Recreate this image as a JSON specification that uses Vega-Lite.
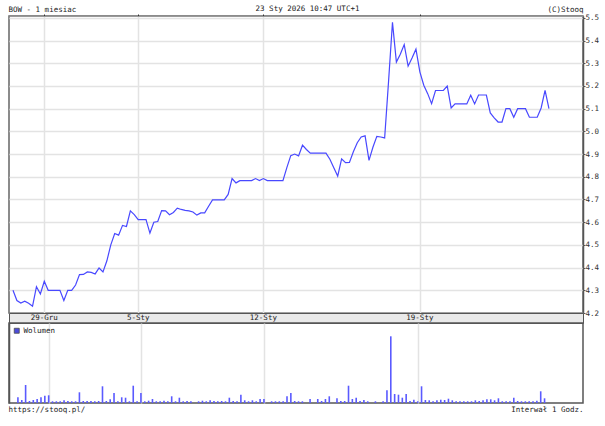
{
  "$schema": "https://vega.github.io/schema/vega-lite/v6.json",
  "background": "white",
  "padding": {"left": 7, "top": 4, "right": 0, "bottom": 0},
  "spacing": 0,
  "bounds": "flush",
  "resolve": {"legend": {"color": "independent"}},
  "title": {"text": "23 Sty 2026 10:47 UTC+1", "anchor": "middle", "frame": "group", "dx": 11.5, "baseline": "alphabetic", "offset": -14, "font": "DejaVu Sans Mono", "fontSize": 7.5, "fontWeight": "normal", "color": "#222"},
  "config": {
    "font": "DejaVu Sans Mono",
    "view": {"stroke": null},
    "concat": {"spacing": 0},
    "axis": {"labelFont": "DejaVu Sans Mono", "titleFont": "DejaVu Sans Mono", "titleFontWeight": "normal", "titleFontSize": 7.5, "labelFontSize": 7.5, "titleColor": "#222", "labelColor": "#333"}
  },
  "datasets": {
    "hourly": [
      {"k":0,"close":4.30,"vol":5700},{"k":1,"close":4.255,"vol":3000},{"k":2,"close":4.244,"vol":18000},{"k":3,"close":4.252,"vol":2000},
      {"k":4,"close":4.243,"vol":3000},{"k":5,"close":4.23,"vol":4000},{"k":6,"close":4.316,"vol":5700},{"k":7,"close":4.284,"vol":7300},
      {"k":8,"close":4.34,"vol":7700},{"k":9,"close":4.30,"vol":1700},{"k":10,"close":4.30,"vol":1700},{"k":11,"close":4.30,"vol":1700},
      {"k":12,"close":4.30,"vol":2700},{"k":13,"close":4.255,"vol":2000},{"k":14,"close":4.30,"vol":1700},{"k":15,"close":4.30,"vol":1700},
      {"k":16,"close":4.323,"vol":10700},{"k":17,"close":4.369,"vol":2000},{"k":18,"close":4.37,"vol":2000},{"k":19,"close":4.381,"vol":2000},
      {"k":20,"close":4.379,"vol":1700},{"k":21,"close":4.372,"vol":2000},{"k":22,"close":4.398,"vol":16700},{"k":23,"close":4.381,"vol":2000},
      {"k":24,"close":4.43,"vol":3700},{"k":25,"close":4.50,"vol":10000},{"k":26,"close":4.55,"vol":1700},{"k":27,"close":4.543,"vol":5700},
      {"k":28,"close":4.586,"vol":5300},{"k":29,"close":4.581,"vol":1700},{"k":30,"close":4.65,"vol":17300},{"k":31,"close":4.633,"vol":1700},
      {"k":32,"close":4.611,"vol":10000},{"k":33,"close":4.611,"vol":1700},{"k":34,"close":4.611,"vol":2300},{"k":35,"close":4.552,"vol":4000},
      {"k":36,"close":4.60,"vol":1700},{"k":37,"close":4.603,"vol":1700},{"k":38,"close":4.651,"vol":2300},{"k":39,"close":4.65,"vol":1700},
      {"k":40,"close":4.633,"vol":6700},{"k":41,"close":4.643,"vol":1700},{"k":42,"close":4.662,"vol":5300},{"k":43,"close":4.656,"vol":1700},
      {"k":44,"close":4.652,"vol":2000},{"k":45,"close":4.65,"vol":1700},{"k":46,"close":4.645,"vol":0},{"k":47,"close":4.631,"vol":1700},
      {"k":48,"close":4.641,"vol":2300},{"k":49,"close":4.641,"vol":1700},{"k":50,"close":4.67,"vol":2700},{"k":51,"close":4.698,"vol":2000},
      {"k":52,"close":4.698,"vol":1700},{"k":53,"close":4.698,"vol":2000},{"k":54,"close":4.698,"vol":1700},{"k":55,"close":4.722,"vol":5300},
      {"k":56,"close":4.792,"vol":2000},{"k":57,"close":4.773,"vol":1700},{"k":58,"close":4.783,"vol":8300},{"k":59,"close":4.783,"vol":2700},
      {"k":60,"close":4.783,"vol":1700},{"k":61,"close":4.783,"vol":2700},{"k":62,"close":4.792,"vol":1700},{"k":63,"close":4.783,"vol":4000},
      {"k":64,"close":4.792,"vol":4000},{"k":65,"close":4.783,"vol":0},{"k":66,"close":4.783,"vol":1700},{"k":67,"close":4.783,"vol":1700},
      {"k":68,"close":4.783,"vol":1700},{"k":69,"close":4.783,"vol":1700},{"k":70,"close":4.84,"vol":6700},{"k":71,"close":4.893,"vol":10000},
      {"k":72,"close":4.90,"vol":2000},{"k":73,"close":4.892,"vol":1700},{"k":74,"close":4.939,"vol":1700},{"k":75,"close":4.92,"vol":0},
      {"k":76,"close":4.904,"vol":4000},{"k":77,"close":4.904,"vol":0},{"k":78,"close":4.904,"vol":4000},{"k":79,"close":4.904,"vol":2000},
      {"k":80,"close":4.904,"vol":4000},{"k":81,"close":4.877,"vol":6700},{"k":82,"close":4.84,"vol":0},{"k":83,"close":4.803,"vol":4700},
      {"k":84,"close":4.879,"vol":2000},{"k":85,"close":4.862,"vol":2000},{"k":86,"close":4.863,"vol":17300},{"k":87,"close":4.91,"vol":4000},
      {"k":88,"close":4.95,"vol":5300},{"k":89,"close":4.975,"vol":2000},{"k":90,"close":4.98,"vol":3000},{"k":91,"close":4.872,"vol":1700},
      {"k":92,"close":4.93,"vol":0},{"k":93,"close":4.978,"vol":1700},{"k":94,"close":4.975,"vol":0},{"k":95,"close":4.971,"vol":1700},
      {"k":96,"close":5.22,"vol":12700},{"k":97,"close":5.48,"vol":66700},{"k":98,"close":5.305,"vol":9000},{"k":99,"close":5.34,"vol":8300},
      {"k":100,"close":5.382,"vol":5300},{"k":101,"close":5.287,"vol":9000},{"k":102,"close":5.323,"vol":2000},{"k":103,"close":5.362,"vol":3300},
      {"k":104,"close":5.262,"vol":1700},{"k":105,"close":5.203,"vol":16700},{"k":106,"close":5.166,"vol":3000},{"k":107,"close":5.122,"vol":2700},
      {"k":108,"close":5.18,"vol":1700},{"k":109,"close":5.18,"vol":2700},{"k":110,"close":5.18,"vol":3300},{"k":111,"close":5.199,"vol":3000},
      {"k":112,"close":5.103,"vol":4300},{"k":113,"close":5.121,"vol":2700},{"k":114,"close":5.121,"vol":1700},{"k":115,"close":5.121,"vol":1700},
      {"k":116,"close":5.121,"vol":1700},{"k":117,"close":5.159,"vol":1700},{"k":118,"close":5.121,"vol":1700},{"k":119,"close":5.16,"vol":2700},
      {"k":120,"close":5.16,"vol":2000},{"k":121,"close":5.16,"vol":2700},{"k":122,"close":5.081,"vol":3700},{"k":123,"close":5.059,"vol":3700},
      {"k":124,"close":5.041,"vol":2700},{"k":125,"close":5.041,"vol":4700},{"k":126,"close":5.10,"vol":1700},{"k":127,"close":5.10,"vol":1700},
      {"k":128,"close":5.062,"vol":1700},{"k":129,"close":5.10,"vol":5300},{"k":130,"close":5.10,"vol":2000},{"k":131,"close":5.10,"vol":1700},
      {"k":132,"close":5.062,"vol":1700},{"k":133,"close":5.062,"vol":1700},{"k":134,"close":5.062,"vol":1700},{"k":135,"close":5.103,"vol":2300},
      {"k":136,"close":5.18,"vol":11700},{"k":137,"close":5.10,"vol":4700}
    ],
    "ticks": [
      {"k":8,"label":"29-Gru"},{"k":32,"label":"5-Sty"},{"k":64,"label":"12-Sty"},{"k":104,"label":"19-Sty"}
    ]
  },
  "vconcat": [
    {
      "width": 574,
      "height": 297,
      "view": {"stroke": "#666", "strokeWidth": 1.5},
      "data": {"name": "hourly"},
      "mark": {"type": "line", "color": "#4848ff", "strokeWidth": 1.2},
      "encoding": {
        "x": {"field": "k", "type": "quantitative",
          "scale": {"domain": [-1.02, 145.7], "nice": false, "zero": false},
          "axis": {"orient": "top", "values": [8, 32, 64, 104], "labels": false, "ticks": true, "tickSize": 2, "tickColor": "#333", "domain": true, "domainColor": "#999", "domainWidth": 1,
            "grid": true, "gridColor": "#e3e3e3", "gridWidth": 1.5,
            "title": "BOW - 1 miesiac", "titleX": -1, "titleY": -4.5, "titleAlign": "left", "titleBaseline": "alphabetic", "titleAngle": 0}},
        "y": {"field": "close", "type": "quantitative",
          "scale": {"domain": [4.2, 5.508], "nice": false, "zero": false},
          "axis": {"orient": "right", "values": [4.2, 4.3, 4.4, 4.5, 4.6, 4.7, 4.8, 4.9, 5.0, 5.1, 5.2, 5.3, 5.4, 5.5], "format": ".1f",
            "grid": true, "gridColor": "#e3e3e3", "gridWidth": 1.5,
            "domain": true, "domainColor": "#555", "domainWidth": 1.5, "ticks": true, "tickColor": "#555", "tickSize": 2, "labelPadding": 0,
            "title": "(C)Stooq", "titleAngle": 0, "titleAlign": "right", "titleX": 0, "titleY": -4.5, "titleBaseline": "alphabetic"}}
      }
    },
    {
      "width": 574,
      "height": 10,
      "view": {"fill": "#e9e9e9", "stroke": "#555", "strokeWidth": 1},
      "data": {"name": "ticks"},
      "mark": {"type": "text", "font": "DejaVu Sans Mono", "fontSize": 7.5, "color": "#222", "baseline": "middle", "align": "center"},
      "encoding": {
        "x": {"field": "k", "type": "quantitative", "scale": {"domain": [-1.02, 145.7], "nice": false, "zero": false}, "axis": null},
        "text": {"field": "label", "type": "nominal"}
      }
    },
    {
      "width": 574,
      "height": 80,
      "view": {"stroke": "#555", "strokeWidth": 1.5},
      "resolve": {"legend": {"color": "independent"}},
      "layer": [
        {
          "data": {"name": "hourly"},
          "mark": {"type": "bar", "color": "#5a5aff", "size": 1.6},
          "encoding": {
            "x": {"field": "k", "type": "quantitative",
              "scale": {"domain": [-1.02, 145.7], "nice": false, "zero": false},
              "axis": {"orient": "bottom", "values": [8, 32, 64, 104], "labels": false, "ticks": false, "domain": false,
                "grid": true, "gridColor": "#e3e3e3", "gridWidth": 1.5,
                "title": "Interwał 1 Godz.", "titleX": 574, "titleY": 8, "titleAlign": "right", "titleBaseline": "alphabetic"}},
            "y": {"field": "vol", "type": "quantitative",
              "scale": {"domain": [0, 80000], "nice": false},
              "axis": {"orient": "left", "labels": false, "ticks": false, "grid": false, "domain": true, "domainColor": "#555", "domainWidth": 1.5,
                "title": "https://stooq.pl/", "titleAngle": 0, "titleAlign": "left", "titleX": -1, "titleY": 88, "titleBaseline": "alphabetic"}}
          }
        },
        {
          "data": {"values": []},
          "mark": {"type": "square", "filled": true},
          "encoding": {
            "color": {"field": "series", "type": "nominal",
              "scale": {"domain": ["Wolumen"], "range": ["#0000cc"]},
              "legend": {"orient": "top-left", "title": null, "offset": 4, "padding": 0, "symbolType": "square", "symbolSize": 25,
                "symbolStrokeColor": "#000", "symbolStrokeWidth": 0.8, "labelFont": "DejaVu Sans Mono", "labelFontSize": 7.5, "labelColor": "#222", "labelOffset": 3}}
          }
        }
      ]
    }
  ]
}
